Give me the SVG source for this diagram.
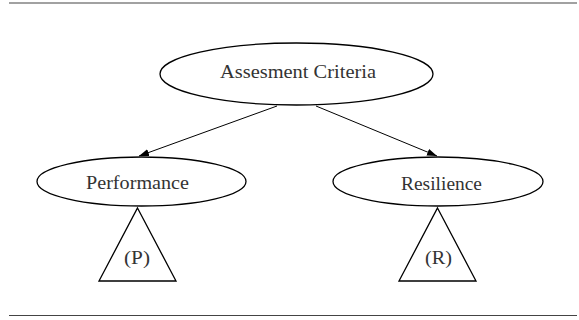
<svg xmlns="http://www.w3.org/2000/svg" width="579" height="320" viewBox="0 0 579 320">
  <style>
    .rule { stroke: #444; stroke-width: 1.2; }
    .shape { fill: none; stroke: #000; stroke-width: 1.3; }
    .edge { stroke: #000; stroke-width: 1; fill: none; }
    .label { font-family: "Liberation Serif", "DejaVu Serif", serif; font-size: 18.5px; fill: #333; text-anchor: middle; }
  </style>
  <defs>
    <marker id="arrow" viewBox="0 0 10 10" refX="10" refY="5" markerWidth="10" markerHeight="10" markerUnits="userSpaceOnUse" orient="auto">
      <path d="M0,1.5 L10,5 L0,8.5 z" fill="#000"/>
    </marker>
  </defs>

  <!-- horizontal rules above and below the tree -->
  <line class="rule" x1="9" y1="3" x2="577" y2="3"/>
  <line class="rule" x1="9" y1="315.5" x2="577" y2="315.5"/>

  <g id="connectors">
    <line class="edge" x1="277" y1="106" x2="139" y2="156" marker-end="url(#arrow)"/>
    <line class="edge" x1="316" y1="106" x2="437" y2="156" marker-end="url(#arrow)"/>
  </g>

  <g id="criteria">
    <ellipse class="shape" cx="296.5" cy="74" rx="136.5" ry="31"/>
    <text class="label" x="298" y="78" textLength="156" lengthAdjust="spacingAndGlyphs">Assesment Criteria</text>
  </g>

  <g id="performance">
    <ellipse class="shape" cx="141.5" cy="181.5" rx="104.5" ry="24.5"/>
    <text class="label" x="137.5" y="189" textLength="103" lengthAdjust="spacingAndGlyphs">Performance</text>
  </g>

  <g id="performance-subtree">
    <polygon class="shape" points="137.5,208 176,281 99,281"/>
    <text class="label" x="137" y="264" textLength="26" lengthAdjust="spacingAndGlyphs">(P)</text>
  </g>

  <g id="resilience">
    <ellipse class="shape" cx="438" cy="181.5" rx="105" ry="24.5"/>
    <text class="label" x="441.5" y="190" textLength="81" lengthAdjust="spacingAndGlyphs">Resilience</text>
  </g>

  <g id="resilience-subtree">
    <polygon class="shape" points="437.5,208 476,281 399,281"/>
    <text class="label" x="438.5" y="264" textLength="27" lengthAdjust="spacingAndGlyphs">(R)</text>
  </g>
</svg>
